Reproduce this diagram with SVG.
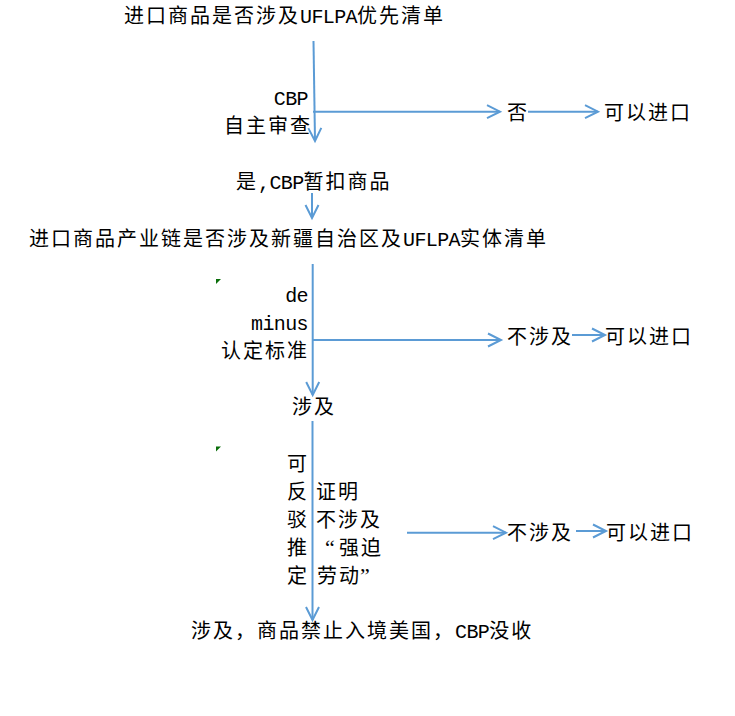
<svg xmlns="http://www.w3.org/2000/svg" width="735" height="716" viewBox="0 0 735 716">
<style>
text{font-family:"Noto Sans CJK SC","Noto Sans",sans-serif;font-size:20px;letter-spacing:2px;fill:#000}
.lat{font-family:"Liberation Mono",monospace;font-size:20px;letter-spacing:-0.6px}
.q{font-family:"Liberation Serif",serif;font-size:22px;letter-spacing:0}
.conn line{stroke:#5B9BD5;stroke-width:2;fill:none;marker-end:url(#ah)}
.mark{fill:#0A6E0A}
</style>
<defs>
<marker id="ah" markerUnits="userSpaceOnUse" markerWidth="20" markerHeight="20" viewBox="-16 -10 20 20" refX="0" refY="0" orient="auto" overflow="visible">
<path d="M-13,-6.5 L0,0 L-13,6.5" fill="none" stroke="#5B9BD5" stroke-width="2"/>
</marker>
</defs>
<rect width="735" height="716" fill="#fff"/>
<g id="connectors" class="conn">
<line x1="313.5" y1="41" x2="315" y2="141"/>
<line x1="313" y1="111.7" x2="500" y2="111.7"/>
<line x1="528" y1="111.7" x2="598" y2="111.7"/>
<line x1="312" y1="193" x2="312" y2="218"/>
<line x1="312.7" y1="264" x2="312.7" y2="395"/>
<line x1="313" y1="340" x2="501" y2="340"/>
<line x1="572" y1="335" x2="605" y2="335"/>
<line x1="312.5" y1="421" x2="312.5" y2="620"/>
<line x1="407" y1="532.7" x2="506" y2="532.7"/>
<line x1="576" y1="531" x2="606" y2="531"/>
</g>
<g id="n1"><text x="124" y="23">进口商品是否涉及<tspan class="lat">UFLPA</tspan>优先清单</text></g>
<g id="n2"><text class="lat" x="308" y="105" text-anchor="end">CBP</text><text x="224" y="133">自主审查</text></g>
<g id="n3"><text x="507" y="120">否</text></g>
<g id="n4"><text x="604" y="120">可以进口</text></g>
<g id="n5"><text x="236" y="189">是<tspan class="lat">,CBP</tspan>暂扣商品</text></g>
<g id="n6"><text x="29" y="246">进口商品产业链是否涉及新疆自治区及<tspan class="lat">UFLPA</tspan>实体清单</text></g>
<g id="n7"><polygon class="mark" points="216,279 221,279 216,284"/><text class="lat" x="308" y="302" text-anchor="end">de</text><text class="lat" x="308" y="330" text-anchor="end">minus</text><text x="221" y="358">认定标准</text></g>
<g id="n8"><text x="507" y="344">不涉及</text></g>
<g id="n9"><text x="605" y="344">可以进口</text></g>
<g id="n10"><text x="292" y="414">涉及</text></g>
<g id="n11"><polygon class="mark" points="216,446.5 221,446.5 216,451.5"/>
<text x="287" y="471">可</text><text x="287" y="499">反</text><text x="287" y="527">驳</text><text x="287" y="555">推</text><text x="287" y="583">定</text>
<text x="316" y="499">证明</text><text x="316" y="527">不涉及</text>
<text x="325" y="555"><tspan class="q">“</tspan><tspan x="339">强迫</tspan></text>
<text x="317" y="583">劳动<tspan class="q" x="360">”</tspan></text></g>
<g id="n12"><text x="507" y="540">不涉及</text></g>
<g id="n13"><text x="606" y="540">可以进口</text></g>
<g id="n14"><text x="191" y="638">涉及，商品禁止入境美国，<tspan class="lat">CBP</tspan>没收</text></g>
</svg>
